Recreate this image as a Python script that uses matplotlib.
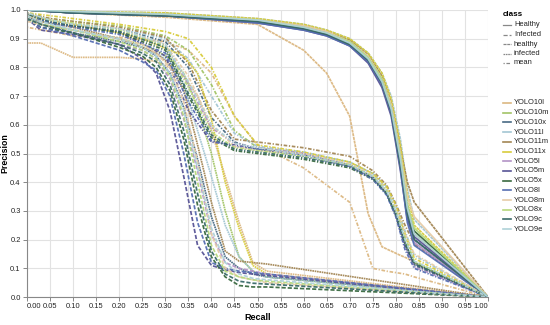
import numpy as np
import matplotlib
matplotlib.use("Agg")
import matplotlib.pyplot as plt
from matplotlib.lines import Line2D

plt.rcParams['font.family'] = ['Liberation Sans', 'DejaVu Sans']
plt.rcParams['lines.scale_dashes'] = False

# models and colours (legend order)
models = ['YOLO10l', 'YOLO10m', 'YOLO10x', 'YOLO11l', 'YOLO11m', 'YOLO11x', 'YOLO5l',
          'YOLO5m', 'YOLO5x', 'YOLO8l', 'YOLO8m', 'YOLO8x', 'YOLO9c', 'YOLO9e']
colors = ['#dcb882', '#a2c466', '#486a84', '#a3c6d3', '#a38654', '#d8cc3c', '#b393c6',
          '#585496', '#3a6a40', '#566eb2', '#e6cca8', '#b6d87c', '#396a68', '#afd2d8']
# True -> class names 'Healthy'/'Infected', False -> 'healthy'/'infected'
capital = [False, False, False, False, False, False, True,
           True, True, True, True, True, True, True]

classes = ['Healthy', 'Infected', 'healthy', 'infected', 'mean']

# healthy class (precision at shared recall points)
healthy_recall = [0.0, 0.1, 0.3, 0.5, 0.6, 0.65, 0.7, 0.74, 0.77, 0.79, 0.81, 0.825, 0.84, 1.0]
healthy_prec = [
    [1.0, 0.99, 0.975, 0.95, 0.86, 0.78, 0.63, 0.29, 0.175, 0.16, 0.145, 0.135, 0.12, 0.0],
    [1.0, 0.995, 0.985, 0.965, 0.945, 0.925, 0.895, 0.84, 0.76, 0.67, 0.50, 0.33, 0.22, 0.0],
    [1.0, 0.99, 0.985, 0.96, 0.94, 0.92, 0.885, 0.83, 0.75, 0.65, 0.47, 0.30, 0.20, 0.0],
    [1.0, 0.995, 0.99, 0.97, 0.95, 0.93, 0.90, 0.85, 0.78, 0.70, 0.55, 0.38, 0.27, 0.0],
    [1.0, 0.995, 0.985, 0.965, 0.945, 0.925, 0.895, 0.845, 0.77, 0.68, 0.52, 0.40, 0.33, 0.0],
    [1.0, 0.995, 0.99, 0.97, 0.95, 0.93, 0.90, 0.85, 0.78, 0.69, 0.53, 0.36, 0.25, 0.0],
    [1.0, 0.99, 0.98, 0.96, 0.935, 0.915, 0.88, 0.82, 0.74, 0.64, 0.46, 0.28, 0.19, 0.0],
    [1.0, 0.99, 0.98, 0.955, 0.93, 0.91, 0.875, 0.815, 0.73, 0.63, 0.44, 0.27, 0.21, 0.0],
    [1.0, 0.99, 0.98, 0.96, 0.935, 0.915, 0.88, 0.825, 0.745, 0.65, 0.47, 0.30, 0.23, 0.0],
    [1.0, 0.99, 0.98, 0.955, 0.93, 0.91, 0.875, 0.82, 0.74, 0.64, 0.45, 0.26, 0.18, 0.0],
    [1.0, 0.995, 0.985, 0.965, 0.945, 0.925, 0.89, 0.84, 0.76, 0.67, 0.50, 0.35, 0.28, 0.0],
    [1.0, 0.995, 0.985, 0.965, 0.94, 0.92, 0.89, 0.835, 0.76, 0.66, 0.49, 0.32, 0.24, 0.0],
    [1.0, 0.99, 0.98, 0.96, 0.935, 0.915, 0.88, 0.825, 0.745, 0.645, 0.46, 0.29, 0.20, 0.0],
    [1.0, 0.995, 0.985, 0.965, 0.94, 0.92, 0.885, 0.83, 0.75, 0.655, 0.48, 0.31, 0.22, 0.0],
]

# infected class
infected_recall = [0.0, 0.03, 0.1, 0.2, 0.25, 0.28, 0.31, 0.34, 0.37, 0.40, 0.43, 0.46, 0.49, 0.52, 1.0]
infected_prec = [
    [0.885, 0.885, 0.835, 0.835, 0.83, 0.82, 0.80, 0.77, 0.70, 0.58, 0.42, 0.26, 0.12, 0.09, 0.0],
    [0.97, 0.95, 0.93, 0.90, 0.88, 0.86, 0.83, 0.78, 0.66, 0.50, 0.30, 0.14, 0.09, 0.07, 0.0],
    [0.98, 0.95, 0.92, 0.89, 0.87, 0.84, 0.78, 0.66, 0.48, 0.28, 0.14, 0.10, 0.08, 0.07, 0.0],
    [0.97, 0.96, 0.93, 0.90, 0.87, 0.85, 0.82, 0.74, 0.58, 0.42, 0.25, 0.14, 0.09, 0.07, 0.0],
    [0.98, 0.96, 0.94, 0.90, 0.87, 0.85, 0.81, 0.72, 0.53, 0.33, 0.16, 0.125, 0.12, 0.115, 0.0],
    [0.98, 0.97, 0.95, 0.92, 0.90, 0.88, 0.86, 0.84, 0.78, 0.62, 0.40, 0.24, 0.11, 0.08, 0.0],
    [0.97, 0.95, 0.92, 0.88, 0.86, 0.83, 0.76, 0.62, 0.44, 0.22, 0.12, 0.10, 0.09, 0.08, 0.0],
    [0.97, 0.93, 0.915, 0.88, 0.83, 0.78, 0.65, 0.42, 0.18, 0.11, 0.095, 0.085, 0.08, 0.075, 0.0],
    [0.97, 0.94, 0.92, 0.87, 0.84, 0.80, 0.72, 0.55, 0.32, 0.14, 0.07, 0.04, 0.035, 0.035, 0.0],
    [0.97, 0.94, 0.91, 0.86, 0.82, 0.79, 0.70, 0.50, 0.26, 0.12, 0.10, 0.09, 0.085, 0.08, 0.0],
    [0.96, 0.95, 0.93, 0.90, 0.88, 0.85, 0.80, 0.68, 0.47, 0.22, 0.10, 0.07, 0.06, 0.05, 0.0],
    [0.97, 0.95, 0.93, 0.89, 0.86, 0.83, 0.77, 0.63, 0.40, 0.18, 0.09, 0.07, 0.06, 0.055, 0.0],
    [0.97, 0.95, 0.92, 0.88, 0.85, 0.82, 0.74, 0.58, 0.36, 0.16, 0.08, 0.055, 0.048, 0.045, 0.0],
    [0.98, 0.96, 0.93, 0.90, 0.87, 0.84, 0.78, 0.65, 0.45, 0.24, 0.12, 0.08, 0.065, 0.06, 0.0],
]

# mean curve
mean_recall = [0.0, 0.05, 0.1, 0.2, 0.3, 0.35, 0.4, 0.45, 0.5, 0.6, 0.7, 0.75, 0.78, 0.8, 0.82, 0.84, 1.0]
mean_prec = [
    [0.94, 0.925, 0.91, 0.905, 0.89, 0.86, 0.78, 0.63, 0.53, 0.45, 0.33, 0.10, 0.09, 0.085, 0.08, 0.07, 0.0],
    [0.985, 0.97, 0.96, 0.945, 0.91, 0.86, 0.74, 0.58, 0.52, 0.50, 0.47, 0.43, 0.375, 0.305, 0.21, 0.12, 0.0],
    [0.99, 0.965, 0.95, 0.935, 0.89, 0.80, 0.625, 0.54, 0.515, 0.50, 0.46, 0.42, 0.36, 0.29, 0.19, 0.11, 0.0],
    [0.985, 0.965, 0.95, 0.935, 0.90, 0.83, 0.70, 0.57, 0.525, 0.505, 0.47, 0.43, 0.385, 0.32, 0.23, 0.145, 0.0],
    [0.99, 0.97, 0.96, 0.94, 0.905, 0.815, 0.65, 0.55, 0.54, 0.52, 0.49, 0.44, 0.39, 0.325, 0.25, 0.185, 0.0],
    [0.99, 0.98, 0.97, 0.95, 0.925, 0.90, 0.80, 0.63, 0.53, 0.505, 0.47, 0.43, 0.385, 0.32, 0.22, 0.135, 0.0],
    [0.985, 0.96, 0.945, 0.925, 0.88, 0.74, 0.59, 0.535, 0.52, 0.50, 0.455, 0.415, 0.36, 0.285, 0.18, 0.105, 0.0],
    [0.985, 0.955, 0.945, 0.925, 0.84, 0.65, 0.54, 0.53, 0.515, 0.495, 0.46, 0.415, 0.365, 0.285, 0.175, 0.115, 0.0],
    [0.985, 0.955, 0.945, 0.92, 0.86, 0.70, 0.555, 0.51, 0.50, 0.48, 0.45, 0.41, 0.36, 0.285, 0.185, 0.12, 0.0],
    [0.985, 0.955, 0.94, 0.915, 0.85, 0.68, 0.545, 0.525, 0.515, 0.49, 0.455, 0.41, 0.355, 0.28, 0.165, 0.10, 0.0],
    [0.98, 0.965, 0.955, 0.935, 0.88, 0.77, 0.60, 0.525, 0.51, 0.50, 0.465, 0.425, 0.375, 0.31, 0.22, 0.15, 0.0],
    [0.985, 0.965, 0.955, 0.93, 0.875, 0.73, 0.575, 0.52, 0.51, 0.49, 0.46, 0.42, 0.37, 0.30, 0.205, 0.125, 0.0],
    [0.985, 0.96, 0.945, 0.925, 0.87, 0.71, 0.565, 0.515, 0.505, 0.485, 0.455, 0.415, 0.36, 0.29, 0.19, 0.115, 0.0],
    [0.99, 0.965, 0.95, 0.935, 0.88, 0.75, 0.60, 0.535, 0.52, 0.495, 0.46, 0.42, 0.37, 0.30, 0.20, 0.125, 0.0],
]

# dash pattern per class name (points)
dashes = {
    'Healthy': None,
    'Infected': (0, (3.0, 1.4)),
    'healthy': (0, (2.2, 0.5)),
    'infected': (0, (1.2, 0.5)),
    'mean': (0, (0.9, 1.2, 2.6, 1.2)),
}

W, H = 550, 325
fig = plt.figure(figsize=(W / 100, H / 100), dpi=100)
x0, x1, y0, y1 = 27, 488, 10, 297
ax = fig.add_axes([x0 / W, 1 - y1 / H, (x1 - x0) / W, (y1 - y0) / H])

lw = 1.25
for i, m in enumerate(models):
    hname = 'Healthy' if capital[i] else 'healthy'
    iname = 'Infected' if capital[i] else 'infected'
    for rec, prec, cname in [(healthy_recall, healthy_prec[i], hname),
                             (infected_recall, infected_prec[i], iname),
                             (mean_recall, mean_prec[i], 'mean')]:
        ls = dashes[cname]
        if ls is None:
            ax.plot(rec, prec, color=colors[i], lw=lw, alpha=0.95, solid_joinstyle='round')
        else:
            ax.plot(rec, prec, color=colors[i], lw=lw, alpha=0.95, linestyle=ls)

ax.set_xlim(0, 1)
ax.set_ylim(0, 1)
xt = np.round(np.arange(0, 1.0001, 0.05), 2)
yt = np.round(np.arange(0, 1.0001, 0.1), 1)
ax.set_xticks(xt)
ax.set_yticks(yt)
ax.set_xticklabels(['%.2f' % v for v in xt])
ax.set_yticklabels(['%.1f' % v for v in yt])
labs = ax.get_xticklabels()
labs[0].set_horizontalalignment('left')
labs[-1].set_horizontalalignment('right')
ax.grid(True, color='#e2e2e2', lw=0.8)
ax.set_axisbelow(True)
for s in ['top', 'right']:
    ax.spines[s].set_visible(False)
for s in ['left', 'bottom']:
    ax.spines[s].set_color('#888888')
    ax.spines[s].set_linewidth(0.8)
ax.tick_params(length=3, width=0.7, color='#888888', labelsize=5.4, labelcolor='#222222', pad=1.5)

fig.text(257.5 / W, 1 - 318 / H, 'Recall', ha='center', va='center', fontsize=6.5, fontweight='bold')
fig.text(4.5 / W, 1 - 153 / H, 'Precision', ha='center', va='center', rotation=90,
         fontsize=6.3, fontweight='bold')

# legends drawn in pixel space
lg = fig.add_axes([0, 0, 1, 1])
lg.set_xlim(0, W)
lg.set_ylim(H, 0)
lg.axis('off')
lg.text(503, 14, 'class', fontsize=5.8, fontweight='bold', va='center', ha='left')
for k, c in enumerate(classes):
    yy = 25 + k * 9.5
    ls = dashes[c]
    if ls is None:
        lg.add_line(Line2D([503, 511], [yy, yy], color='#888888', lw=0.9))
    else:
        lg.add_line(Line2D([503, 511], [yy, yy], color='#888888', lw=0.9, linestyle=ls))
    lg.text(514, yy, c, fontsize=5.4, va='center', ha='left', color='#222222')

for k, m in enumerate(models):
    yy = 103 + k * 9.7
    lg.add_line(Line2D([503, 511], [yy, yy], color=colors[k], lw=1.2))
    lg.text(514, yy, m, fontsize=5.4, va='center', ha='left', color='#222222')

fig.savefig('out.png', dpi=100)
